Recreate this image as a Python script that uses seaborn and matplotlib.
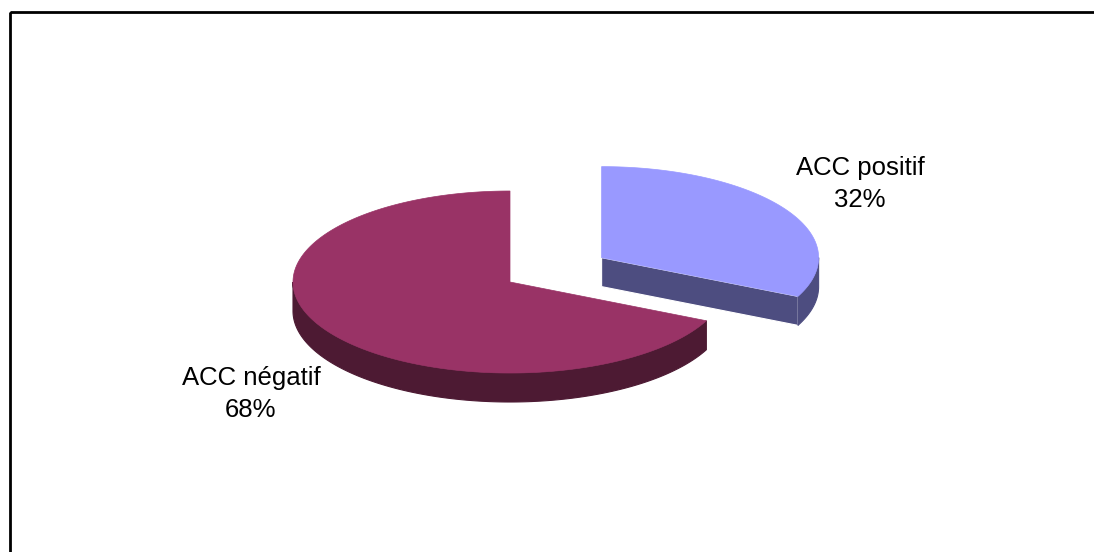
import numpy as np
import matplotlib
matplotlib.use("Agg")
import matplotlib.pyplot as plt
from matplotlib.patches import Polygon, Rectangle
import seaborn as sns

# ---- data ----
labels = ["ACC positif", "ACC négatif"]
values = [32, 68]
top_colors = ["#9999FF", "#993366"]
side_colors = ["#4D4D80", "#4D1A33"]

sns.set_theme(style="white")
plt.rcParams["font.family"] = ["Liberation Sans", "DejaVu Sans"]

W, H = 1094, 552
fig = plt.figure(figsize=(W / 100, H / 100), dpi=100)
ax = fig.add_axes([0, 0, 1, 1])
ax.set_xlim(0, W)
ax.set_ylim(H, 0)
ax.axis("off")

# frame
ax.add_patch(Rectangle((10, 12), 1200, 700, fill=False, edgecolor="black", lw=2.0))

# pie geometry (pixel space)
cx, cy = 510, 282
rx, ry = 217, 91
depth = 29
explode = [0.5, 0.0]
label_pos = [(860, 184), (251, 394)]

total = float(sum(values))
fracs = [v / total for v in values]
starts = np.cumsum([0] + fracs[:-1]) * 360.0
ends = starts + np.array(fracs) * 360.0


def pt(ox, oy, th, dz=0.0):
    t = np.deg2rad(th)
    return ox + rx * np.sin(t), oy - ry * np.cos(t) + dz


# draw the big slice first, then exploded one
order = [1, 0]
for i in order:
    a, b = starts[i], ends[i]
    mid = np.deg2rad((a + b) / 2)
    ox = cx + explode[i] * rx * np.sin(mid)
    oy = cy - explode[i] * ry * np.cos(mid)
    side_patches = []
    # radial face at end angle (visible when b in (0,180))
    if 0 < b < 180:
        px, py = pt(ox, oy, b)
        face = [(ox, oy), (px, py), (px, py + depth), (ox, oy + depth)]
        side_patches.append(face)
    # radial face at start angle (visible when a in (180,360))
    if 180 < a < 360:
        px, py = pt(ox, oy, a)
        face = [(ox, oy), (px, py), (px, py + depth), (ox, oy + depth)]
        side_patches.append(face)
    # rim side: visible arc within [90, 270]
    lo, hi = max(a, 90), min(b, 270)
    if hi > lo:
        th = np.linspace(lo, hi, 200)
        topx, topy = pt(ox, oy, th)
        poly = list(zip(topx, topy)) + list(zip(topx[::-1], (topy + depth)[::-1]))
        side_patches.append(poly)
    for k, p in enumerate(side_patches):
        ax.add_patch(Polygon(p, closed=True, facecolor=side_colors[i],
                             edgecolor="white" if (i == 0 and k == 0) else side_colors[i],
                             lw=0.8))
    # top face
    th = np.linspace(a, b, 400)
    tx, ty = pt(ox, oy, th)
    poly = [(ox, oy)] + list(zip(tx, ty))
    ax.add_patch(Polygon(poly, closed=True, facecolor=top_colors[i],
                         edgecolor=top_colors[i], lw=0.5))

for i in range(len(values)):
    x, y = label_pos[i]
    ax.text(x, y, f"{labels[i]}\n{values[i]}%", ha="center", va="center",
            fontsize=18.5, color="black", linespacing=1.45)

fig.savefig("out.png", dpi=100)
